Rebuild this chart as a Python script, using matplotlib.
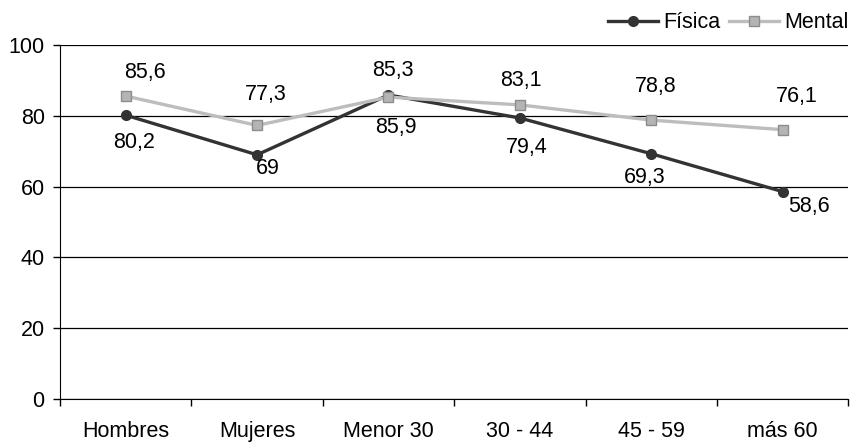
import matplotlib
matplotlib.use("Agg")
import matplotlib.pyplot as plt
from matplotlib.ticker import FixedLocator, NullFormatter

plt.rcParams['font.family'] = ['Liberation Sans', 'DejaVu Sans']

categories = ["Hombres", "Mujeres", "Menor 30", "30 - 44", "45 - 59", "más 60"]
fisica = [80.2, 69, 85.9, 79.4, 69.3, 58.6]
mental = [85.6, 77.3, 85.3, 83.1, 78.8, 76.1]
fisica_labels = ["80,2", "69", "85,9", "79,4", "69,3", "58,6"]
mental_labels = ["85,6", "77,3", "85,3", "83,1", "78,8", "76,1"]

# data-label nudges (points), as placed in the original
fisica_dx = [6, 8, 5, 5, -5, 19]
fisica_dy = [-24, -13.5, -27.5, -25.5, -21, -14.5]
mental_dx = [14, 6, 3, 1, 3, 10]
mental_dy = [13, 18, 15, 13.7, 20, 20]

FS = 15.5

fig = plt.figure(figsize=(8.5, 4.42), dpi=100)
ax = fig.add_axes([0.0706, 0.0973, 0.9274, 0.8007])

x = list(range(len(categories)))
ax.plot(x, fisica, color="#333333", lw=2.4, marker="o", ms=7, mfc="#333333", mec="#333333",
        label="Física", zorder=3)
ax.plot(x, mental, color="#bdbdbd", lw=2.4, marker="s", ms=6.5, mfc="#b4b4b4", mec="#8c8c8c",
        mew=1, label="Mental", zorder=4)

for xi, v, t, dx, dy in zip(x, fisica, fisica_labels, fisica_dx, fisica_dy):
    ax.annotate(t, (xi, v), xytext=(dx, dy), textcoords="offset points", ha="center",
                va="baseline", fontsize=FS)
for xi, v, t, dx, dy in zip(x, mental, mental_labels, mental_dx, mental_dy):
    ax.annotate(t, (xi, v), xytext=(dx, dy), textcoords="offset points", ha="center",
                va="baseline", fontsize=FS)

ax.set_xlim(-0.5, len(categories) - 0.5)
ax.set_ylim(0, 100)
ax.set_yticks([0, 20, 40, 60, 80, 100])
ax.tick_params(axis='y', labelsize=FS, length=5, width=1, color="black", direction="out", pad=6)
ax.yaxis.grid(True, color="black", lw=0.9)
ax.set_axisbelow(True)

ax.set_xticks(x)
ax.set_xticklabels(categories, fontsize=FS)
ax.tick_params(axis='x', which='major', length=0, pad=16)
ax.xaxis.set_minor_locator(FixedLocator([i - 0.5 for i in range(len(categories) + 1)]))
ax.xaxis.set_minor_formatter(NullFormatter())
ax.tick_params(axis='x', which='minor', length=5, width=1, color="black", direction="out")

for s in ["top", "right"]:
    ax.spines[s].set_visible(False)
ax.spines["left"].set_color("black")
ax.spines["bottom"].set_color("black")

leg = fig.legend(loc="center right", bbox_to_anchor=(0.998, 0.948), ncol=2, frameon=False,
                 fontsize=FS, handlelength=2.3, handletextpad=0.25, columnspacing=0.4,
                 borderaxespad=0, borderpad=0)

fig.savefig("out.png", dpi=100)
